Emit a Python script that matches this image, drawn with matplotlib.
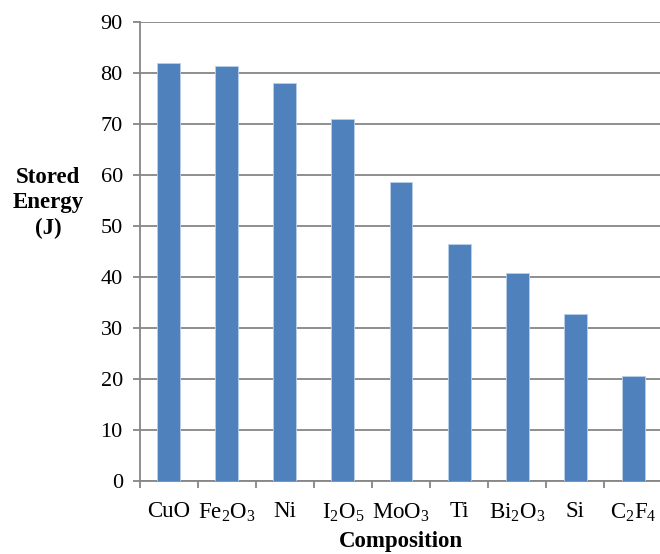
import matplotlib
matplotlib.use("Agg")
import matplotlib.pyplot as plt
import numpy as np

categories = [r"CuO", r"Fe$_2$O$_3$", r"Ni", r"I$_2$O$_5$", r"MoO$_3$", r"Ti",
              r"Bi$_2$O$_3$", r"Si", r"C$_2$F$_4$"]
energy = [82.0, 81.4, 78.0, 71.0, 58.7, 46.5, 40.7, 32.8, 20.5]
yticks = [0, 10, 20, 30, 40, 50, 60, 70, 80, 90]

plt.rcParams['font.family'] = ['Liberation Serif']
plt.rcParams['mathtext.fontset'] = 'custom'
plt.rcParams['mathtext.rm'] = 'Liberation Serif'
plt.rcParams['mathtext.it'] = 'Liberation Serif:italic'
plt.rcParams['mathtext.bf'] = 'Liberation Serif:bold'

fig = plt.figure(figsize=(6.6, 5.54), dpi=100)
ax = fig.add_axes([139.5/660, 73.5/554, 523/660, 458.2/554])

gray = '#868686'
x = np.arange(len(categories))
ax.bar(x, energy, width=0.395, color='#4F81BD', edgecolor='#BBD0EA', linewidth=0.6, zorder=3)

ax.set_xlim(-0.5, len(categories) - 0.5)
ax.set_ylim(0, 90)
ax.set_yticks(yticks)
ax.set_yticklabels([str(v) for v in yticks], fontsize=16)
ax.yaxis.grid(True, color=gray, linewidth=1.3, zorder=0)
ax.set_axisbelow(True)

ax.set_xticks(x)
ax.set_xticklabels(categories, fontsize=16.5)
ax.tick_params(axis='x', which='major', length=0, pad=15)
ax.set_xticks(np.arange(-0.5, len(categories) + 0.5, 1), minor=True)
ax.tick_params(axis='x', which='minor', length=5, width=1.3, color=gray, direction='out')
ax.tick_params(axis='y', length=5, width=1.3, color=gray, direction='out', pad=7)

for s in ['top', 'right']:
    ax.spines[s].set_visible(False)
for s in ['left', 'bottom']:
    ax.spines[s].set_color(gray)
    ax.spines[s].set_linewidth(1.3)

ax.set_xlabel('Composition', fontsize=16.5, fontweight='bold', labelpad=5)
fig.text(48/660, 1 - 203/554, 'Stored\nEnergy\n(J)', fontsize=16.5, fontweight='bold',
         ha='center', va='center', linespacing=1.28)

fig.savefig('out.png', dpi=100)
